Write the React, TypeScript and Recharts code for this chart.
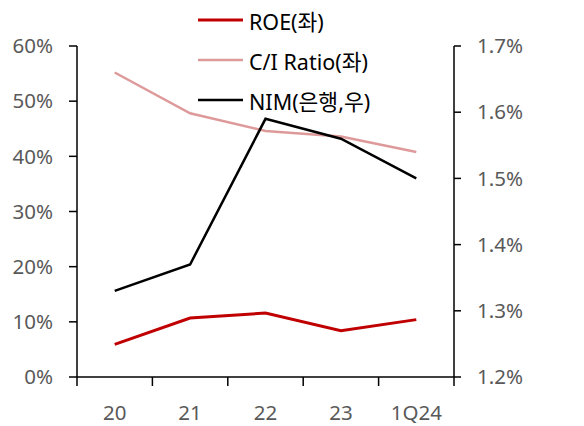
import { Legend, Line, LineChart, XAxis, YAxis } from "recharts";

const periods = ["20", "21", "22", "23", "1Q24"];
const roe = [5.9, 10.7, 11.6, 8.4, 10.4];
const costIncome = [55.2, 47.8, 44.6, 43.6, 40.8];
const nim = [1.33, 1.37, 1.59, 1.56, 1.5];

const leftTicks = [0, 10, 20, 30, 40, 50, 60];
const rightTicks = [1.2, 1.3, 1.4, 1.5, 1.6, 1.7];

const data = periods.map((p, i) => ({
  period: p,
  roe: roe[i],
  ci: costIncome[i],
  nim: nim[i],
}));

const FONT = "'Noto Sans', 'Noto Sans CJK KR', sans-serif";
const GREY = "#595959";
const X_TICK_GAP = 28;

const legendRows = [
  { label: "ROE(좌)", color: "#C00000", width: 3 },
  { label: "C/I Ratio(좌)", color: "#DE9A9A", width: 2.5 },
  { label: "NIM(은행,우)", color: "#000000", width: 2.5 },
];

function LegendBox() {
  return (
    <div style={{ fontFamily: FONT, fontSize: 21.5, color: "#000" }}>
      {legendRows.map((r) => (
        <div
          key={r.label}
          style={{ display: "flex", alignItems: "center", height: 40 }}
        >
          <svg width={51} height={10}>
            <line x1={0} x2={45} y1={5} y2={5} stroke={r.color} strokeWidth={r.width} />
          </svg>
          <span>{r.label}</span>
        </div>
      ))}
    </div>
  );
}

// category label at the band centre, tick marks on the band edges
function PeriodTick(props: any) {
  const { x, y, payload, index, visibleTicksCount } = props;
  const half = payload?.offset ?? 0;
  const axisY = y - X_TICK_GAP;
  const isLast = index === visibleTicksCount - 1;
  return (
    <g>
      <line x1={x - half} x2={x - half} y1={axisY} y2={axisY + 9} stroke="#000" strokeWidth={1.5} />
      {isLast && (
        <line x1={x + half} x2={x + half} y1={axisY} y2={axisY + 9} stroke="#000" strokeWidth={1.5} />
      )}
      <text
        x={x}
        y={y}
        dy="0.71em"
        textAnchor="middle"
        fill={GREY}
        fontSize={20.5}
        fontFamily={FONT}
      >
        {payload.value}
      </text>
    </g>
  );
}

export default function App() {
  return (
    <div style={{ width: 584, height: 426, background: "#fff" }}>
      <style>{"body{margin:0}"}</style>
      <LineChart
        width={584}
        height={426}
        data={data}
        margin={{ top: 46, right: 0, bottom: 0, left: 0 }}
      >
        <XAxis
          dataKey="period"
          scale="band"
          height={49}
          axisLine={{ stroke: "#000", strokeWidth: 1.5 }}
          tickLine={false}
          tickSize={0}
          tickMargin={X_TICK_GAP}
          tick={PeriodTick}
        />
        <YAxis
          yAxisId="left"
          width={77}
          domain={[0, 60]}
          ticks={leftTicks}
          tickFormatter={(v) => `${v}%`}
          axisLine={{ stroke: "#000", strokeWidth: 1.5 }}
          tickLine={{ stroke: "#000", strokeWidth: 1.5 }}
          tickSize={8}
          tickMargin={16}
          tick={{ fill: GREY, fontSize: 20.5, fontFamily: FONT }}
        />
        <YAxis
          yAxisId="right"
          orientation="right"
          width={130}
          domain={[1.2, 1.7]}
          ticks={rightTicks}
          tickFormatter={(v) => `${Number(v).toFixed(1)}%`}
          axisLine={{ stroke: "#000", strokeWidth: 1.5 }}
          tickLine={{ stroke: "#000", strokeWidth: 1.5 }}
          tickSize={7}
          tickMargin={16}
          tick={{ fill: GREY, fontSize: 20.5, fontFamily: FONT }}
        />
        <Legend
          layout="vertical"
          align="center"
          verticalAlign="middle"
          content={() => <LegendBox />}
          wrapperStyle={{ top: 0, left: 198, width: 260 }}
        />
        <Line
          yAxisId="left"
          dataKey="ci"
          name="C/I Ratio(좌)"
          stroke="#DE9A9A"
          strokeWidth={2.5}
          dot={false}
          isAnimationActive={false}
        />
        <Line
          yAxisId="right"
          dataKey="nim"
          name="NIM(은행,우)"
          stroke="#000000"
          strokeWidth={2.5}
          dot={false}
          isAnimationActive={false}
        />
        <Line
          yAxisId="left"
          dataKey="roe"
          name="ROE(좌)"
          stroke="#C00000"
          strokeWidth={3}
          dot={false}
          isAnimationActive={false}
        />
      </LineChart>
    </div>
  );
}
